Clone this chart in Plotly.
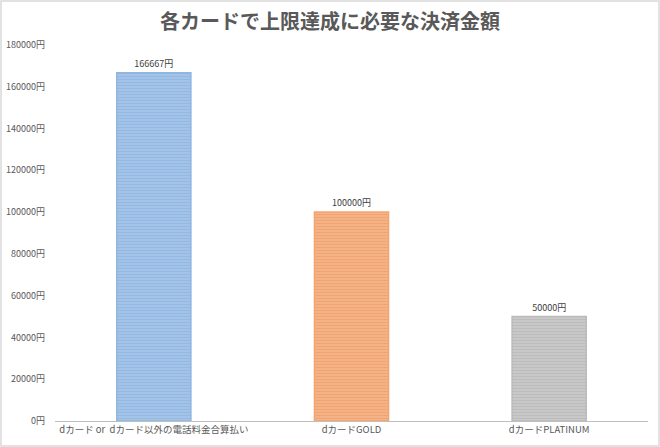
import plotly.graph_objects as go

# chart data
categories = ["dカード or  dカード以外の電話料金合算払い", "dカードGOLD", "dカードPLATINUM"]
amounts = [166667, 100000, 50000]
value_labels = ["166667円", "100000円", "50000円"]
tick_values = list(range(0, 180001, 20000))
tick_labels = [f"{v}円" for v in tick_values]

fill_colors = ["#a5c6e9", "#f6b488", "#cacaca"]
stripe_colors = ["#93b8e1", "#f0a571", "#bcbcbc"]
edge_colors = ["#8fb6e0", "#f2a672", "#bababa"]

font_family = "Noto Sans CJK JP"
text_gray = "#595959"

fig = go.Figure()
# one trace per card so each gets its own stripe colour
for cat, amt, lab, fc, sc, ec in zip(categories, amounts, value_labels,
                                     fill_colors, stripe_colors, edge_colors):
    fig.add_trace(go.Bar(
        x=[cat],
        y=[amt],
        width=0.375,
        text=[lab],
        textposition="outside",
        textfont=dict(size=9, color="#404040", family=font_family),
        cliponaxis=False,
        marker=dict(
            color=fc,
            line=dict(color=ec, width=1.5),
            pattern=dict(shape="-", fillmode="overlay", fgcolor=sc,
                         fgopacity=1, size=3, solidity=0.4),
        ),
    ))

plot_w = 660 - 55 - 12
plot_h = 447 - 45 - 26

fig.update_layout(
    width=660,
    height=447,
    margin=dict(l=55, r=12, t=45, b=26, autoexpand=False),
    paper_bgcolor="white",
    plot_bgcolor="white",
    showlegend=False,
    barmode="overlay",
    title=dict(
        text="<b>各カードで上限達成に必要な決済金額</b>",
        x=0.5,
        xanchor="center",
        y=0.951,
        yanchor="middle",
        font=dict(size=20, color=text_gray, family=font_family),
    ),
    xaxis=dict(
        categoryorder="array",
        categoryarray=categories,
        showline=True,
        linecolor="#bfbfbf",
        linewidth=1,
        ticks="",
        tickfont=dict(size=9.5, color=text_gray, family=font_family),
        showgrid=False,
        automargin=False,
    ),
    yaxis=dict(
        range=[0, 180000],
        tickvals=tick_values,
        ticktext=tick_labels,
        tickfont=dict(size=9, color=text_gray, family=font_family),
        showgrid=False,
        zeroline=False,
        showline=False,
        ticks="",
        ticklabelstandoff=9,
        automargin=False,
    ),
    shapes=[dict(
        type="rect", xref="paper", yref="paper",
        x0=-54 / plot_w, x1=1 + 11 / plot_w, y0=-25 / plot_h, y1=1 + 44 / plot_h,
        line=dict(color="#d9d9d9", width=1.5), fillcolor="rgba(0,0,0,0)",
    )],
)

fig.write_html("out.html", config={"displayModeBar": False},
               post_script="document.body.style.margin='0';")
